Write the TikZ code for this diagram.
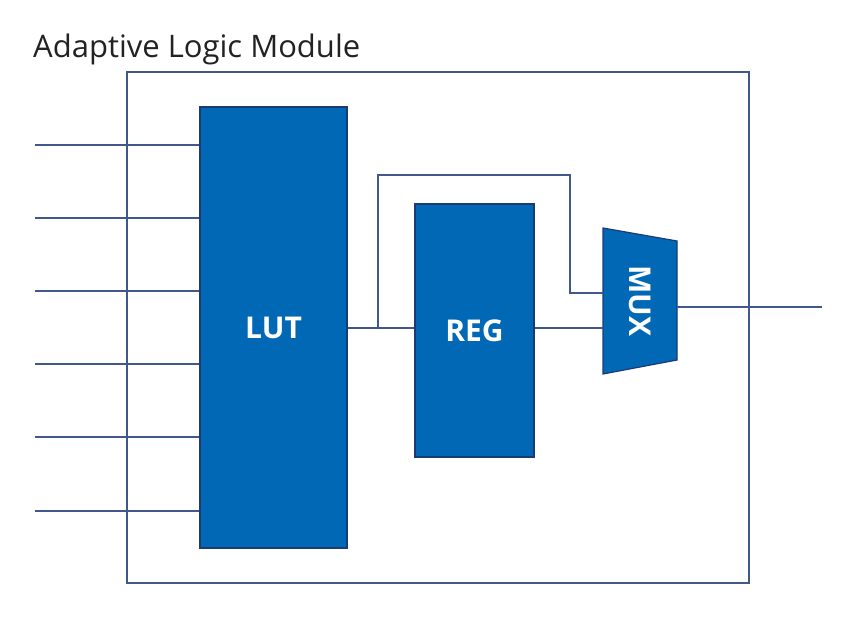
\documentclass[tikz,border=0pt]{standalone}
\usepackage{fontspec}
\setmainfont{Open Sans}
\usepackage{tikz}
\usetikzlibrary{positioning,calc}
\definecolor{almblue}{HTML}{0068B5}
\definecolor{almedge}{HTML}{1E3A74}
\definecolor{wire}{HTML}{40588C}
\definecolor{titlegray}{HTML}{222222}
\tikzset{
  block/.style    = {rectangle, draw=almedge, fill=almblue, line width=1.6pt, inner sep=0pt,
                     text=white, font=\bfseries\fontsize{30}{34}\selectfont},
  wireline/.style = {draw=wire, line width=1.5pt},
  frame/.style    = {rectangle, draw=wire, line width=1.8pt, inner sep=0pt},
}

\begin{document}
\begin{tikzpicture}[x=1pt, y=-1pt]
  \useasboundingbox (0,0) rectangle (846,639);

  %% ---------------- title and module frame ----------------
  \node[anchor=base west, inner sep=0pt, text=titlegray, font=\fontsize{31}{36}\selectfont]
    (title) at (33,58) {Adaptive Logic Module};
  \node[frame, minimum width=622pt, minimum height=511pt] (alm) at (438,327.5) {};

  %% ---------------- blocks ----------------
  \node[block, minimum width=147pt, minimum height=441pt] (lut) at (273.5,327.5) {LUT};
  \node[block, minimum width=119pt, minimum height=253pt] (reg) at (474.5,330.5) {REG};

  % mux: trapezoid, wide side facing the inputs
  \coordinate (muxnw) at (603,228);
  \coordinate (muxsw) at (603,374);
  \coordinate (muxne) at (677,241);
  \coordinate (muxse) at (677,360);
  \filldraw[fill=almblue, draw=almedge, line width=1.2pt] (muxnw) -- (muxne) -- (muxse) -- (muxsw) -- cycle;
  \node[rotate=-90, text=white, font=\bfseries\fontsize{30}{34}\selectfont, inner sep=0pt]
    (mux) at (640,301) {MUX};

  %% ---------------- wires ----------------
  \foreach \y [count=\i] in {145,218,291,364,437,511} {
    \coordinate (in\i) at (35,\y);
    \draw[wireline] (in\i) -- (in\i -| lut.west);
  }
  \coordinate (split) at (378,328);
  \coordinate (loop) at (570,175);
  \coordinate (muxa) at (603,293);
  \coordinate (muxb) at (603,328);
  \coordinate (muxo) at (677,307);
  \coordinate (out) at (822,307);

  \draw[wireline] (lut.east |- split) -- (split -| reg.west);
  \draw[wireline] (split) |- (loop) |- (muxa);
  \draw[wireline] (reg.east |- muxb) -- (muxb);
  \draw[wireline] (muxo) -- (out);
\end{tikzpicture}
\end{document}
